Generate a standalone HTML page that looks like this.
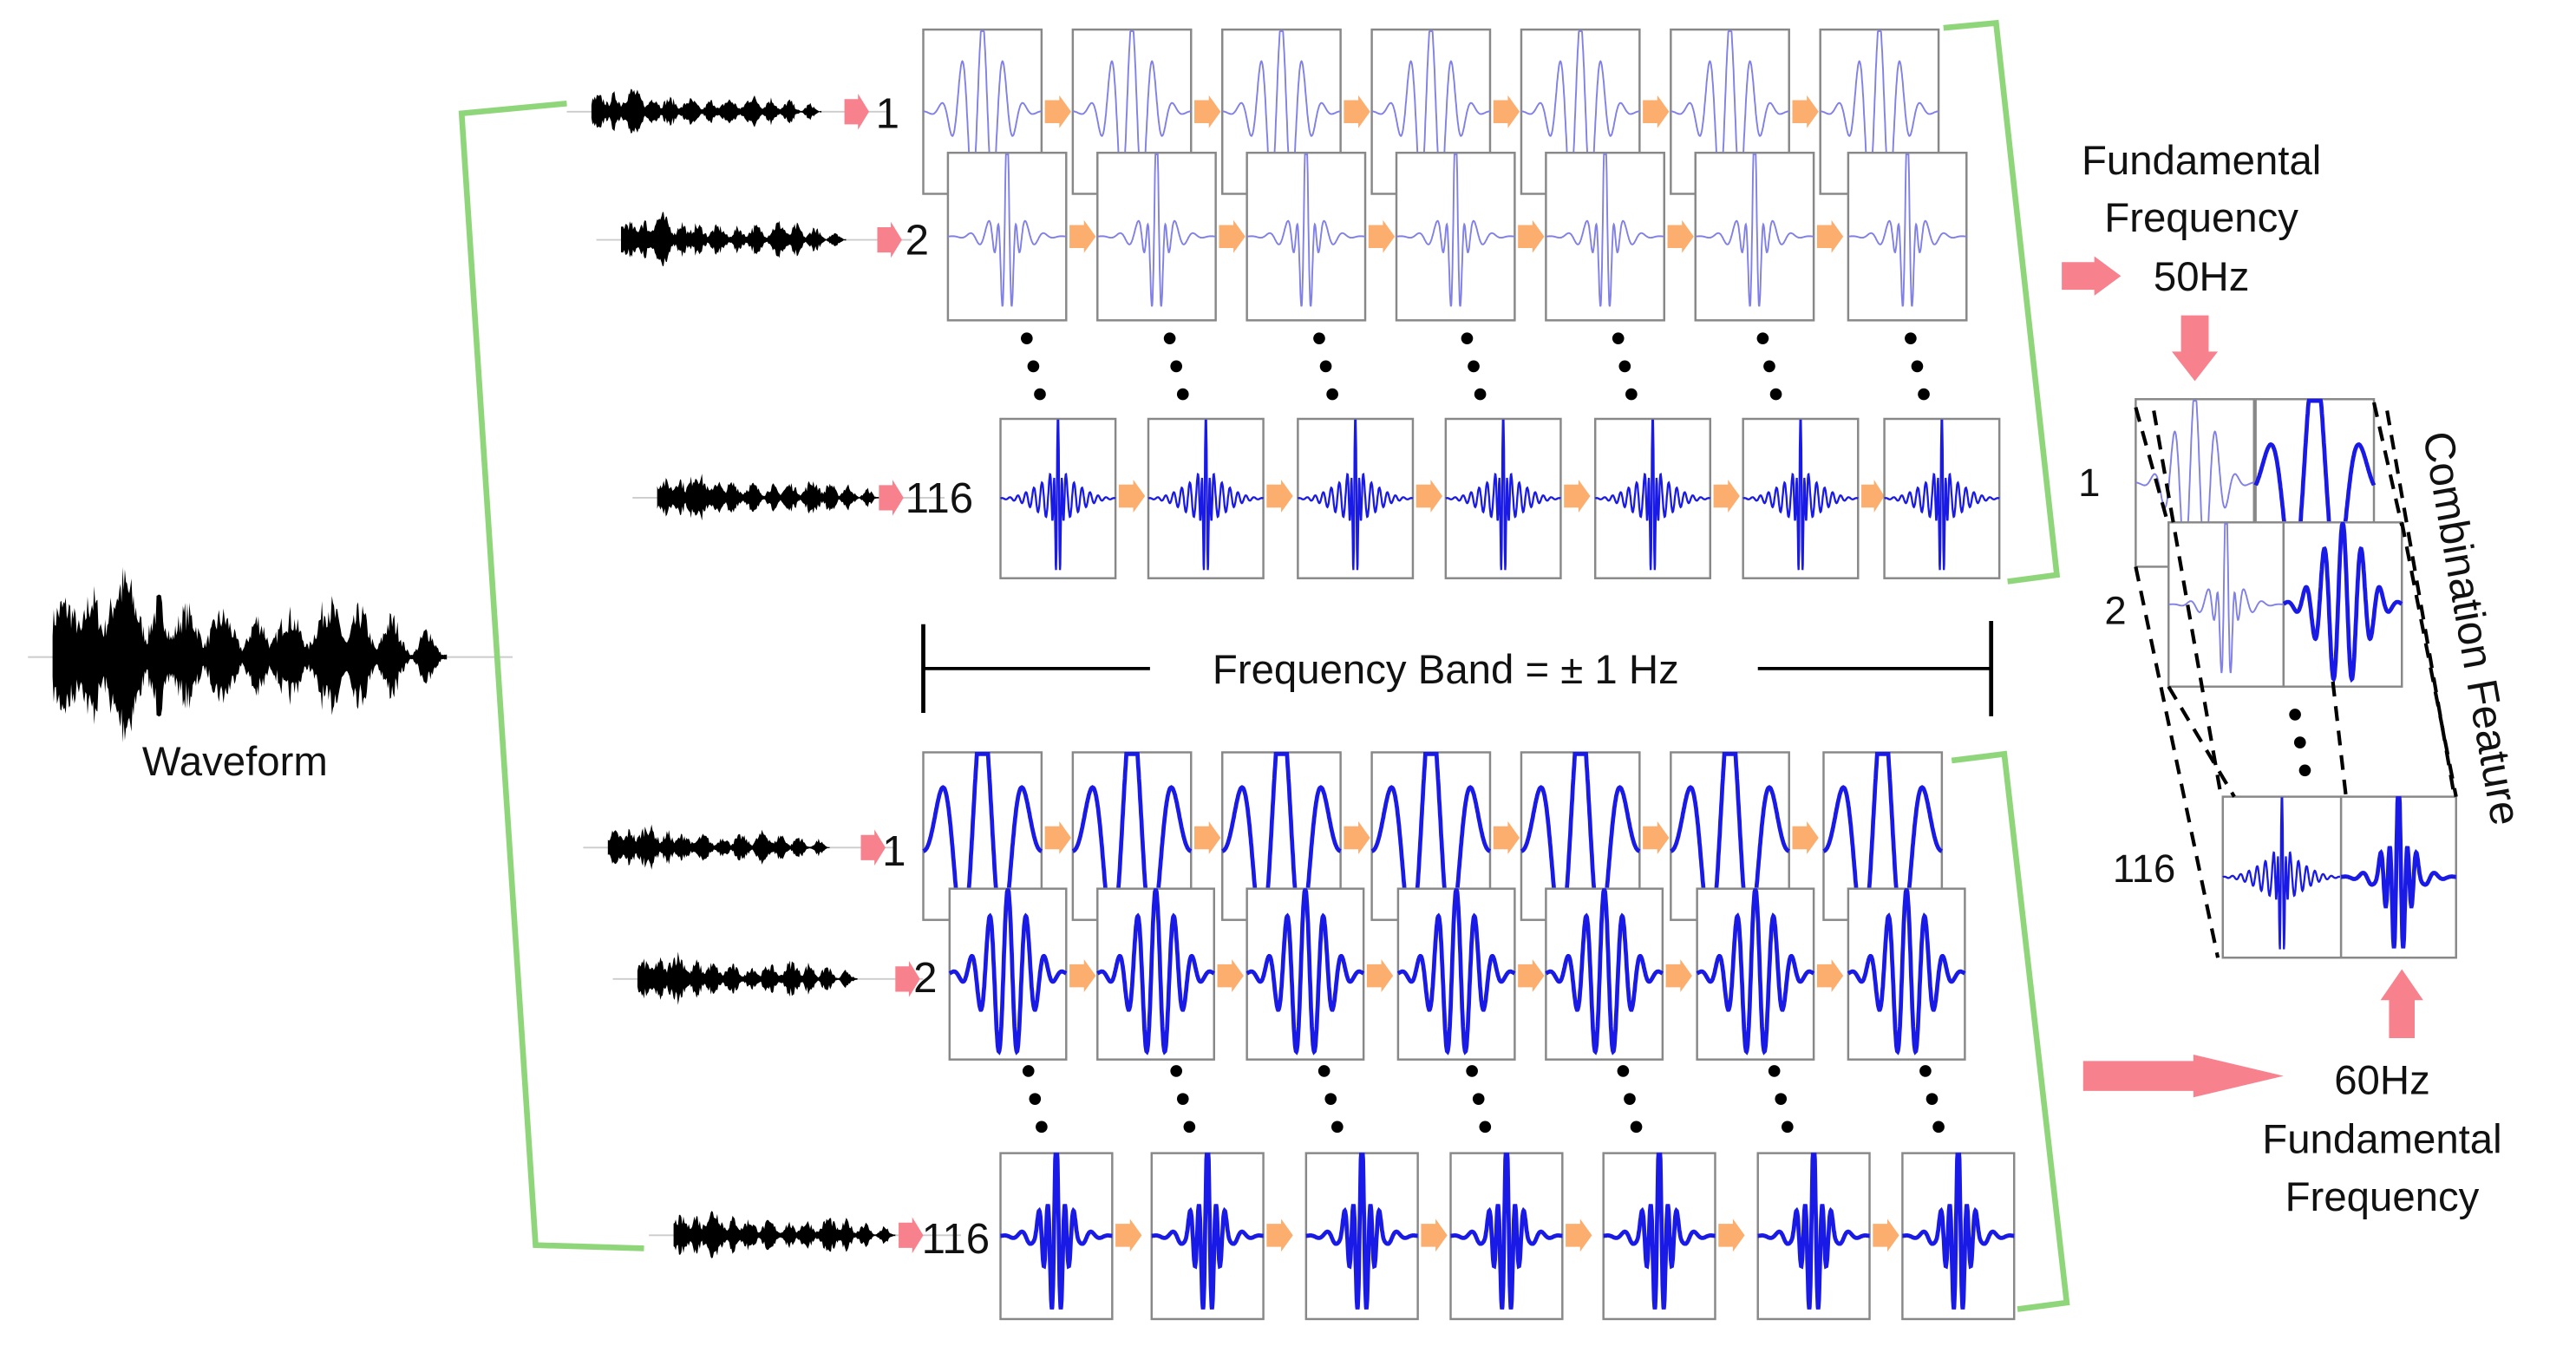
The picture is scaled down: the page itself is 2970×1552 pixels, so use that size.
<!DOCTYPE html>
<html><head><meta charset="utf-8">
<style>
html,body{margin:0;padding:0;background:#fff;overflow:hidden}
svg{display:block}
text{font-family:"Liberation Sans",sans-serif;fill:#111}
</style></head>
<body>
<svg id="s" width="2970" height="1552" viewBox="0 0 1568 819.4" preserveAspectRatio="none" xmlns="http://www.w3.org/2000/svg">
<g id="g"></g>
<g font-size="26">
<text x="533" y="78">1</text>
<text x="551" y="155">2</text>
<text x="551" y="312">116</text>
<text x="537" y="527">1</text>
<text x="556" y="604">2</text>
<text x="561" y="763">116</text>
<text x="1265" y="302" font-size="24">1</text>
<text x="1281" y="380" font-size="24">2</text>
<text x="1286" y="537" font-size="24">116</text>
</g>
<g font-size="25" text-anchor="middle">
<text x="143" y="472">Waveform</text>
<text x="1340" y="106">Fundamental</text>
<text x="1340" y="141">Frequency</text>
<text x="1340" y="177">50Hz</text>
<text x="1450" y="666">60Hz</text>
<text x="1450" y="702">Fundamental</text>
<text x="1450" y="737">Frequency</text>
<text x="880" y="416">Frequency Band = ± 1 Hz</text>
<text transform="translate(1496,384) rotate(80)" font-size="26">Combination Feature</text>
</g>
</svg>
<script>
var g=document.getElementById('g');var NS='http://www.w3.org/2000/svg';
function el(t,a){var e=document.createElementNS(NS,t);for(var k in a)e.setAttribute(k,a[k]);g.appendChild(e);return e;}
var seed=7;function rnd(){seed=(seed*16807)%2147483647;return seed/2147483647;}
var bursts=[[0.03,0.05,0.7],[0.1,0.03,0.8],[0.18,0.05,1],[0.27,0.03,0.7],[0.34,0.04,0.6],[0.43,0.04,0.55],[0.52,0.03,0.5],[0.6,0.04,0.55],[0.7,0.04,0.7],[0.78,0.03,0.6],[0.86,0.03,0.5],[0.95,0.025,0.35]];
function audio(x0,x1,yc,amp){var n=Math.round((x1-x0)*1.5);var top=[],bot=[];
 for(var i=0;i<=n;i++){var x=x0+(x1-x0)*i/n;var t=i/n;var env=0.03;
  bursts.forEach(function(b){var d=(t-b[0])/b[1];env=Math.max(env,b[2]*Math.exp(-d*d));});
  var a=amp*env*(0.45+0.55*rnd());top.push(x.toFixed(1)+','+(yc-a).toFixed(1));bot.push(x.toFixed(1)+','+(yc+a*0.95).toFixed(1));}
 el('line',{x1:x0-15,y1:yc,x2:x1+40,y2:yc,stroke:'#ccc','stroke-width':1});
 el('polygon',{points:top.concat(bot.reverse()).join(' '),fill:'#000'});}
audio(32,272,400,58);
[[360,500,68,16],[378,515,146,18],[400,535,303,18],[370,505,516,16],[388,522,596,18],[410,545,752,18]].forEach(function(a){audio(a[0],a[1],a[2],a[3]);});
function harr(x,y,w,h,c){el('polygon',{points:[x,y-h*0.35,x+w*0.55,y-h*0.35,x+w*0.55,y-h*0.5,x+w,y,x+w*0.55,y+h*0.5,x+w*0.55,y+h*0.35,x,y+h*0.35].join(' '),fill:c});}
function varr(x,y,w,h,c,up){var s=up?-1:1;el('polygon',{points:[x-w*0.3,y,x+w*0.3,y,x+w*0.3,y+s*h*0.55,x+w*0.5,y+s*h*0.55,x,y+s*h,x-w*0.5,y+s*h*0.55,x-w*0.3,y+s*h*0.55].join(' '),fill:c});}
var pink='#f7828e',orange='#fbae6e';
harr(514,68,15,22,pink);harr(534,146,15,22,pink);harr(535,303,15,22,pink);
harr(524,516,15,22,pink);harr(545,596,15,22,pink);harr(547,752,15,22,pink);
harr(1255,168,36,24,pink);varr(1336,192,28,40,pink,false);varr(1462,632,26,42,pink,true);
harr(1268,655,122,26,pink);
function sig(x,y,w,h,f,s,col,sw,ext,s2){
 el('rect',{x:x,y:y,width:w,height:h,fill:'#fff',stroke:'#888','stroke-width':1.3});
 var cx=x+w/2,cy=y+h/2,pts=[];
 for(var i=0;i<=300;i++){var t=(i/300-0.5)*2;var v=Math.exp(-(t/s)*(t/s))*Math.cos(f*t);
  if(s2)v=0.25*Math.exp(-(t/s2)*(t/s2))*Math.cos(f*t*0.5)+Math.exp(-(t/s)*(t/s))*Math.cos(f*t);
  var yy=cy-v*h*ext;yy=Math.max(y+1,Math.min(y+h-1,yy));pts.push((x+i/300*w).toFixed(1)+','+yy.toFixed(1));}
 el('polyline',{points:pts.join(' '),fill:'none',stroke:col,'stroke-width':sw});}
function row(xs,y,w,h,f,s,col,sw,ext,ay,s2){xs.forEach(function(x,i){sig(x,y,w,h,f,s,col,sw,ext,s2);
 if(i<xs.length-1){var nx=xs[i+1];harr(x+w+2,ay,Math.min(16,nx-x-w-2),20,orange);}});}
var lt='#8080e6',dk='#1a1ae6';
row([562,653,744,835,926,1017,1108],18,72,100,18,0.45,lt,1,0.55,68);
row([577,668,759,850,941,1032,1125],93,72,102,40,0.15,lt,1,0.55,144,0.45);
row([609,699,790,880,971,1061,1147],255,70,97,90,0.08,dk,1.2,0.55,302,0.5);
row([562,653,744,835,926,1017,1110],458,72,102,9,0.7,dk,2.5,0.75,510);
row([578,668,759,851,941,1033,1125],541,71,104,20,0.5,dk,2.5,0.5,594);
row([609,701,795,883,976,1070,1158],702,68,101,40,0.22,dk,2.5,0.5,752,0.5);
function dots(x,y,dx){for(var k=0;k<3;k++)el('circle',{cx:x+k*dx,cy:y+k*17,r:3.6,fill:'#000'});}
[625,712,803,893,985,1073,1163].forEach(function(x){dots(x,206,4);});
[626,716,806,896,988,1080,1172].forEach(function(x){dots(x,652,4);});
dots(1397,435,3);
el('line',{x1:562,y1:407,x2:700,y2:407,stroke:'#000','stroke-width':2});
el('line',{x1:1070,y1:407,x2:1212,y2:407,stroke:'#000','stroke-width':2});
el('line',{x1:562,y1:380,x2:562,y2:434,stroke:'#000','stroke-width':2.5});
el('line',{x1:1212,y1:378,x2:1212,y2:436,stroke:'#000','stroke-width':2.5});
var gr='#8fd67a';
el('polyline',{points:'345,63 281,69 326,758 392,760',fill:'none',stroke:gr,'stroke-width':3.5});
el('polyline',{points:'1183,17 1215,14 1252,350 1222,354',fill:'none',stroke:gr,'stroke-width':3.5});
el('polyline',{points:'1188,463 1220,459 1258,793 1228,797',fill:'none',stroke:gr,'stroke-width':3.5});
function dl(a,b,c,d){el('line',{x1:a,y1:b,x2:c,y2:d,stroke:'#000','stroke-width':2.2,'stroke-dasharray':'9,6'});}
sig(1300,243,72,102,18,0.45,lt,1,0.55);sig(1373,243,72,102,8,0.7,dk,2.5,0.75);
sig(1320,318,70,100,40,0.15,lt,1,0.55,0.45);sig(1390,318,72,100,20,0.5,dk,2.5,0.5);
sig(1353,485,72,98,90,0.08,dk,1.2,0.55,0.5);sig(1425,485,70,98,40,0.22,dk,2.5,0.5,0.5);
dl(1300,248,1320,320);dl(1445,245,1462,320);dl(1300,345,1350,583);dl(1320,418,1360,485);
dl(1462,318,1495,485);dl(1420,415,1428,485);dl(1311,250,1352,485);dl(1453,250,1494,485);
</script>
</body></html>
